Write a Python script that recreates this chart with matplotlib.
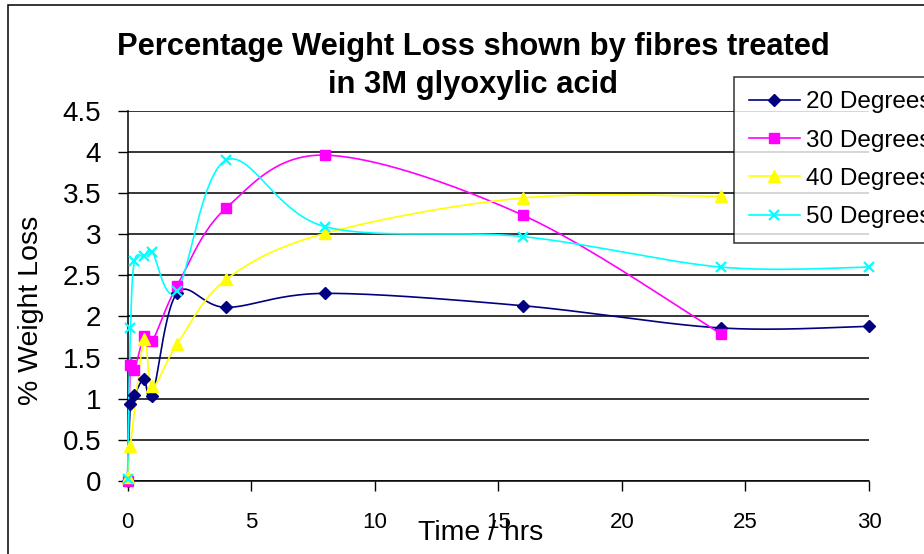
import numpy as np
import matplotlib
matplotlib.use("Agg")
import matplotlib.pyplot as plt
from matplotlib.lines import Line2D
from matplotlib.patches import Rectangle

plt.rcParams['font.family'] = ['Liberation Sans', 'DejaVu Sans']

# data
t20 = [0, 0.12, 0.28, 0.67, 1, 2, 4, 8, 16, 24, 30]
w20 = [0, 0.94, 1.04, 1.24, 1.03, 2.28, 2.11, 2.28, 2.13, 1.86, 1.88]
t30 = [0, 0.12, 0.28, 0.67, 1, 2, 4, 8, 16, 24]
w30 = [0, 1.41, 1.35, 1.76, 1.70, 2.37, 3.32, 3.96, 3.23, 1.79]
t40 = [0, 0.12, 0.67, 1, 2, 4, 8, 16, 24]
w40 = [0.05, 0.42, 1.72, 1.15, 1.66, 2.45, 3.01, 3.44, 3.46]
t50 = [0, 0.12, 0.28, 0.67, 1, 2, 4, 8, 16, 24, 30]
w50 = [0.03, 1.86, 2.67, 2.73, 2.78, 2.31, 3.90, 3.09, 2.97, 2.60, 2.60]

labels = ['20 Degrees', '30 Degrees', '40 Degrees', '50 Degrees']
xticks = [0, 5, 10, 15, 20, 25, 30]
yticks = [0, 0.5, 1, 1.5, 2, 2.5, 3, 3.5, 4, 4.5]


def smooth(x, y, n=40):
    # Excel-like smoothed line: cubic bezier through the points
    x = np.asarray(x, float)
    y = np.asarray(y, float)
    px = np.concatenate([[x[0]], x, [x[-1]]])
    py = np.concatenate([[y[0]], y, [y[-1]]])
    xs, ys = [], []
    for i in range(len(x) - 1):
        p1 = np.array([px[i + 1], py[i + 1]])
        p2 = np.array([px[i + 2], py[i + 2]])
        c1 = p1 + (np.array([px[i + 2], py[i + 2]]) - np.array([px[i], py[i]])) / 6
        c2 = p2 - (np.array([px[i + 3], py[i + 3]]) - np.array([px[i + 1], py[i + 1]])) / 6
        t = np.linspace(0, 1, n, endpoint=(i == len(x) - 2))[:, None]
        b = (1 - t) ** 3 * p1 + 3 * (1 - t) ** 2 * t * c1 + 3 * (1 - t) * t ** 2 * c2 + t ** 3 * p2
        xs.append(b[:, 0])
        ys.append(b[:, 1])
    return np.concatenate(xs), np.concatenate(ys)


fig = plt.figure(figsize=(9.24, 5.54), dpi=100)
ax = fig.add_axes([127.5 / 924, 1 - 481 / 554, (869 - 127.5) / 924, (481 - 110.7) / 554])

series = [
    (t20, w20, '#000080', 'D', 5.8, 1.0),
    (t30, w30, '#FF00FF', 's', 7.5, 1.0),
    (t40, w40, '#FFFF00', '^', 9, 1.0),
    (t50, w50, '#00FFFF', 'x', 6.5, 1.6),
]

handles = []
for (t, w, c, m, ms, mew), lab in zip(series, labels):
    sx, sy = smooth(t, w)
    ax.plot(sx, sy, color=c, lw=1.2, clip_on=False, zorder=3)
    ax.plot(t, w, ls='none', marker=m, ms=ms, color=c, mec=c, mew=mew,
            clip_on=False, zorder=4)
    handles.append(Line2D([], [], color=c, lw=1.2, marker=m, ms=ms, mec=c, mew=mew))

ax.set_xlim(0, 30)
ax.set_ylim(0, 4.5)
ax.set_xticks(xticks)
ax.set_yticks(yticks)
ax.set_xticklabels(['%g' % v for v in xticks])
ax.set_yticklabels(['%g' % v for v in yticks])
ax.tick_params(axis='x', labelsize=16, length=7, width=1, pad=15, direction='out')
ax.tick_params(axis='y', labelsize=20, length=7, width=1, pad=12, direction='out')
ax.grid(axis='y', color='black', lw=1.1)
ax.set_axisbelow(True)
for s in ['top', 'right']:
    ax.spines[s].set_visible(False)
for s in ['left', 'bottom']:
    ax.spines[s].set_linewidth(1.1)

fig.text(473 / 924, 1 - 55 / 554, 'Percentage Weight Loss shown by fibres treated',
         ha='center', va='baseline', fontsize=22.2, fontweight='bold')
fig.text(473 / 924, 1 - 93 / 554, 'in 3M glyoxylic acid',
         ha='center', va='baseline', fontsize=22.2, fontweight='bold')
fig.text(481 / 924, 1 - 533 / 554, 'Time / hrs', ha='center', va='center', fontsize=20.5)
fig.text(31 / 924, 1 - 310 / 554, '% Weight Loss', ha='center', va='center',
         rotation=90, fontsize=20.5)

leg = fig.legend(handles, labels, loc='upper left',
                 bbox_to_anchor=(734 / 924, 1 - 76.7 / 554), fontsize=17.5,
                 frameon=True, fancybox=False, borderaxespad=0, borderpad=0.6,
                 labelspacing=0.67, handlelength=2.1, handletextpad=0.28)
leg.get_frame().set_edgecolor('black')
leg.get_frame().set_linewidth(1.1)

fig.patches.append(Rectangle((8 / 924, -0.1), 1.2, 1 - 5 / 554 + 0.1,
                             transform=fig.transFigure, fill=False,
                             edgecolor='black', lw=1.1))

fig.savefig('out.png', dpi=100)
